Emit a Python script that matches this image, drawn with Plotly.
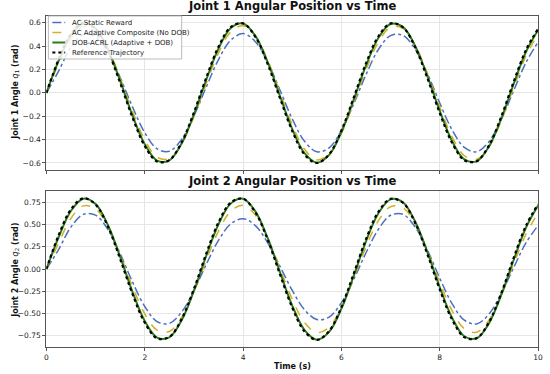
import plotly.graph_objects as go

t = [0.0, 0.25, 0.5, 0.75, 1.0, 1.25, 1.5, 1.75, 2.0, 2.25, 2.5, 2.75, 3.0, 3.25, 3.5, 3.75,
     4.0, 4.25, 4.5, 4.75, 5.0, 5.25, 5.5, 5.75, 6.0, 6.25, 6.5, 6.75, 7.0, 7.25, 7.5, 7.75,
     8.0, 8.25, 8.5, 8.75, 9.0, 9.25, 9.5, 9.75, 10.0]

# Joint 1
j1_static = [0, 0.188, 0.391, 0.498, 0.483, 0.350, 0.131, -0.120, -0.341, -0.479, -0.500, -0.398,
             -0.199, 0.049, 0.285, 0.451, 0.507, 0.438, 0.263, 0.023, -0.223, -0.414, -0.504, -0.470,
             -0.321, -0.094, 0.156, 0.369, 0.490, 0.492, 0.373, 0.163, -0.087, -0.316, -0.467, -0.504,
             -0.418, -0.229, 0.015, 0.256, 0.435]
j1_adaptive = [0, 0.250, 0.458, 0.569, 0.540, 0.380, 0.126, -0.158, -0.404, -0.551, -0.563, -0.437,
               -0.204, 0.078, 0.342, 0.522, 0.574, 0.485, 0.278, 0.003, -0.273, -0.482, -0.573, -0.524,
               -0.346, -0.084, 0.199, 0.433, 0.562, 0.552, 0.408, 0.163, -0.121, -0.376, -0.538, -0.569,
               -0.461, -0.239, 0.041, 0.311, 0.505]
j1_dob = [0, 0.275, 0.492, 0.594, 0.550, 0.371, 0.102, -0.193, -0.440, -0.580, -0.577, -0.434,
          -0.184, 0.111, 0.379, 0.554, 0.593, 0.487, 0.262, -0.027, -0.310, -0.516, -0.597, -0.531,
          -0.335, -0.058, 0.235, 0.469, 0.589, 0.564, 0.402, 0.141, -0.155, -0.412, -0.569, -0.586,
          -0.460, -0.221, 0.072, 0.347, 0.537]
j1_ref = [0, 0.288, 0.505, 0.599, 0.546, 0.359, 0.085, -0.210, -0.454, -0.587, -0.575, -0.423,
          -0.168, 0.129, 0.394, 0.563, 0.594, 0.479, 0.247, -0.045, -0.326, -0.528, -0.600, -0.525,
          -0.322, -0.040, 0.252, 0.482, 0.594, 0.561, 0.390, 0.124, -0.173, -0.427, -0.577, -0.585,
          -0.451, -0.205, 0.090, 0.363, 0.548]

# Joint 2
j2_static = [0, 0.222, 0.475, 0.616, 0.607, 0.446, 0.172, -0.145, -0.423, -0.593, -0.614, -0.485,
             -0.242, 0.051, 0.323, 0.509, 0.568, 0.490, 0.295, 0.031, -0.242, -0.460, -0.570, -0.542,
             -0.380, -0.117, 0.183, 0.446, 0.606, 0.617, 0.474, 0.212, -0.103, -0.391, -0.578, -0.620,
             -0.510, -0.279, 0.012, 0.291, 0.491]
j2_adaptive = [0, 0.294, 0.573, 0.712, 0.677, 0.476, 0.158, -0.198, -0.506, -0.690, -0.705, -0.547,
               -0.256, 0.098, 0.428, 0.653, 0.719, 0.608, 0.348, 0.003, -0.342, -0.604, -0.718, -0.656,
               -0.434, -0.105, 0.249, 0.543, 0.703, 0.691, 0.510, 0.205, -0.152, -0.470, -0.674, -0.713,
               -0.577, -0.300, 0.051, 0.389, 0.632]
j2_dob = [0, 0.361, 0.657, 0.793, 0.734, 0.496, 0.136, -0.257, -0.587, -0.774, -0.771, -0.579,
          -0.246, 0.148, 0.505, 0.739, 0.792, 0.650, 0.350, -0.036, -0.413, -0.689, -0.797, -0.709,
          -0.448, -0.077, 0.313, 0.626, 0.786, 0.753, 0.536, 0.188, -0.206, -0.550, -0.759, -0.782,
          -0.614, -0.295, 0.096, 0.463, 0.717]
j2_ref = [0, 0.384, 0.673, 0.798, 0.727, 0.479, 0.113, -0.281, -0.605, -0.782, -0.767, -0.564,
          -0.224, 0.172, 0.526, 0.750, 0.792, 0.639, 0.330, -0.060, -0.435, -0.704, -0.800, -0.700,
          -0.429, -0.053, 0.336, 0.643, 0.792, 0.748, 0.520, 0.165, -0.230, -0.569, -0.769, -0.780,
          -0.601, -0.274, 0.120, 0.484, 0.730]

x_ticks = [0, 2, 4, 6, 8, 10]
y1_ticks = [-0.6, -0.4, -0.2, 0, 0.2, 0.4, 0.6]
y2_ticks = [-0.75, -0.5, -0.25, 0, 0.25, 0.5, 0.75]

names = ["AC Static Reward", "AC Adaptive Composite (No DOB)",
         "DOB-ACRL (Adaptive + DOB)", "Reference Trajectory"]
colors = ["#4C6FBF", "#D2B02A", "#2E7A1E", "#000000"]
dashes = ["dashdot", "dash", "solid", "dot"]
widths = [1.5, 1.5, 2.0, 2.2]

W, H = 550, 374
FONT = "DejaVu Sans"
fig = go.Figure()

series1 = [j1_static, j1_adaptive, j1_dob, j1_ref]
series2 = [j2_static, j2_adaptive, j2_dob, j2_ref]
for i in range(4):
    fig.add_trace(go.Scatter(x=t, y=series1[i], mode="lines", name=names[i],
                             line=dict(color=colors[i], dash=dashes[i], width=widths[i], shape="spline"),
                             xaxis="x", yaxis="y", showlegend=False))
for i in range(4):
    fig.add_trace(go.Scatter(x=t, y=series2[i], mode="lines", name=names[i],
                             line=dict(color=colors[i], dash=dashes[i], width=widths[i], shape="spline"),
                             xaxis="x2", yaxis="y2", showlegend=False))

axis_common = dict(showline=True, linecolor="#555555", linewidth=1.2, mirror=True,
                   ticks="outside", ticklen=3, tickcolor="#555555",
                   showgrid=True, gridcolor="#E6E6E6", gridwidth=0.8, zeroline=False,
                   tickfont=dict(family=FONT, size=7.5, color="#222222"))


def px(x):
    return x / W


def py(y):
    return 1 - y / H


# Custom compact legend (matplotlib-like)
shapes = [dict(type="rect", xref="paper", yref="paper", x0=px(47), x1=px(182), y0=py(59), y1=py(16),
               line=dict(color="#BBBBBB", width=1), fillcolor="rgba(255,255,255,0.85)", layer="above")]
annotations = []
for i in range(4):
    yy = 22.5 + 10 * i
    shapes.append(dict(type="line", xref="paper", yref="paper", x0=px(51), x1=px(64), y0=py(yy), y1=py(yy),
                       line=dict(color=colors[i], dash=dashes[i], width=widths[i]), layer="above"))
    annotations.append(dict(text=names[i], x=px(68.5), y=py(yy), xref="paper", yref="paper",
                            xanchor="left", yanchor="middle", showarrow=False,
                            font=dict(family=FONT, size=7, color="#222222")))

annotations += [
    dict(text="<b>Joint 1 Angular Position vs Time</b>", x=px(294), y=py(6.5),
         xref="paper", yref="paper", xanchor="center", yanchor="middle",
         showarrow=False, font=dict(family=FONT, size=11.5, color="#111111")),
    dict(text="<b>Joint 2 Angular Position vs Time</b>", x=px(294), y=py(180.5),
         xref="paper", yref="paper", xanchor="center", yanchor="middle",
         showarrow=False, font=dict(family=FONT, size=11.5, color="#111111")),
    dict(text="<b>Time (s)</b>", x=px(294), y=py(366),
         xref="paper", yref="paper", xanchor="center", yanchor="middle",
         showarrow=False, font=dict(family=FONT, size=8, color="#111111")),
    dict(text="<b>Joint 1 Angle </b><i>q</i><sub>1</sub><b> (rad)</b>", x=px(14), y=py(92),
         xref="paper", yref="paper", xanchor="center", yanchor="middle", textangle=-90,
         showarrow=False, font=dict(family=FONT, size=8, color="#111111")),
    dict(text="<b>Joint 2 Angle </b><i>q</i><sub>2</sub><b> (rad)</b>", x=px(14), y=py(270),
         xref="paper", yref="paper", xanchor="center", yanchor="middle", textangle=-90,
         showarrow=False, font=dict(family=FONT, size=8, color="#111111")),
]

fig.update_layout(
    width=W, height=H,
    margin=dict(l=0, r=0, t=0, b=0),
    paper_bgcolor="white", plot_bgcolor="white",
    font=dict(family=FONT),
    showlegend=False,
    xaxis=dict(domain=[px(45), px(543)], range=[-0.0001, 10.0001], tickvals=x_ticks,
               showticklabels=False, anchor="y", **axis_common),
    yaxis=dict(domain=[py(170), py(15.7)], range=[-0.66, 0.66],
               tickvals=y1_ticks, tickformat=".1f", anchor="x", **axis_common),
    xaxis2=dict(domain=[px(45), px(543)], range=[-0.0001, 10.0001], tickvals=x_ticks,
                anchor="y2", **axis_common),
    yaxis2=dict(domain=[py(347), py(191)], range=[-0.88, 0.88],
                tickvals=y2_ticks, tickformat=".2f", anchor="x2", **axis_common),
    shapes=shapes,
    annotations=annotations,
)

fig.write_html("out.html", config={"displayModeBar": False},
               post_script="document.body.style.margin='0';document.body.style.padding='0';")
